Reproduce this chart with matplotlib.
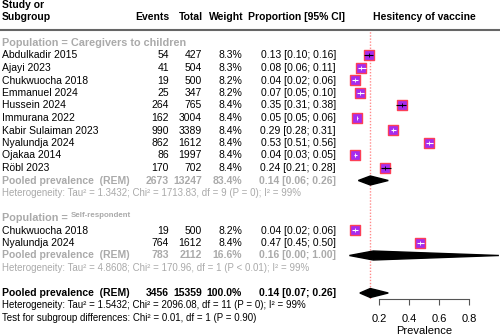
import matplotlib
matplotlib.use("Agg")
import matplotlib.pyplot as plt

plt.rcParams['font.family'] = ['Liberation Sans', 'DejaVu Sans']

# subgroup 1: caregivers to children
studies1 = ["Abdulkadir 2015", "Ajayi 2023", "Chukwuocha 2018", "Emmanuel 2024", "Hussein 2024",
            "Immurana 2022", "Kabir Sulaiman 2023", "Nyalundja 2024", "Ojakaa 2014", "Röbl 2023"]
events1 = [54, 41, 19, 25, 264, 162, 990, 862, 86, 170]
totals1 = [427, 504, 500, 347, 765, 3004, 3389, 1612, 1997, 702]
weights1 = [8.3, 8.3, 8.2, 8.2, 8.4, 8.4, 8.4, 8.4, 8.4, 8.4]
prop1 = [0.13, 0.08, 0.04, 0.07, 0.35, 0.05, 0.29, 0.53, 0.04, 0.24]
lo1 = [0.10, 0.06, 0.02, 0.05, 0.31, 0.05, 0.28, 0.51, 0.03, 0.21]
hi1 = [0.16, 0.11, 0.06, 0.10, 0.38, 0.06, 0.31, 0.56, 0.05, 0.28]

# subgroup 2: self-respondent
studies2 = ["Chukwuocha 2018", "Nyalundja 2024"]
events2 = [19, 764]
totals2 = [500, 1612]
weights2 = [8.2, 8.4]
prop2 = [0.04, 0.47]
lo2 = [0.02, 0.45]
hi2 = [0.06, 0.50]

# pooled: group1, group2, overall
pooled_events = [2673, 783, 3456]
pooled_totals = [13247, 2112, 15359]
pooled_weights = [83.4, 16.6, 100.0]
pooled_prop = [0.14, 0.16, 0.14]
pooled_lo = [0.06, 0.00, 0.07]
pooled_hi = [0.26, 1.00, 0.26]

het1 = "Heterogeneity: Tau² = 1.3432; Chi² = 1713.83, df = 9 (P = 0); I² = 99%"
het2 = "Heterogeneity: Tau² = 4.8608; Chi² = 170.96, df = 1 (P < 0.01); I² = 99%"
het_all = "Heterogeneity: Tau² = 1.5432; Chi² = 2096.08, df = 11 (P = 0); I² = 99%"
test_sub = "Test for subgroup differences: Chi² = 0.01, df = 1 (P = 0.90)"
ref_line = 0.14
xticks = [0.2, 0.4, 0.6, 0.8]

W, H = 500, 336
GRAY = '#aaaaaa'
FS = 7.5
FS_HET = 7.0

fig = plt.figure(figsize=(W / 100, H / 100), dpi=100)
tx = fig.add_axes([0, 0, 1, 1])
tx.set_xlim(0, W)
tx.set_ylim(H, 0)
tx.axis('off')

def rowy(k):
    return 43 + 12.5 * k

X_NAME, X_EV, X_TOT, X_W, X_P = 2, 169, 202, 242, 336

def row_text(k, name, ev, tot, w, p, lo, hi, color='black', weight='normal'):
    y = rowy(k)
    kw = dict(va='center', fontsize=FS, color=color, fontweight=weight)
    tx.text(X_NAME, y, name, ha='left', **kw)
    tx.text(X_EV, y, str(ev), ha='right', **kw)
    tx.text(X_TOT, y, str(tot), ha='right', **kw)
    tx.text(X_W, y, f"{w:.1f}%", ha='right', **kw)
    tx.text(X_P, y, f"{p:.2f} [{lo:.2f}; {hi:.2f}]", ha='right', **kw)

# header
hk = dict(fontsize=FS, fontweight='bold', va='center')
tx.text(X_NAME, 5.5, "Study or", ha='left', **hk)
tx.text(X_NAME, 17.5, "Subgroup", ha='left', **hk)
tx.text(X_EV, 17.5, "Events", ha='right', **hk)
tx.text(X_TOT + 1, 17.5, "Total", ha='right', **hk)
tx.text(X_W + 2, 17.5, "Weight", ha='right', **hk)
tx.text(345, 17.5, "Proportion [95% CI]", ha='right', **hk)
tx.text(424, 17.5, "Hesitency of vaccine", ha='center', **hk)
tx.plot([0, W], [30, 30], color='#666666', lw=1.5)

# group 1
tx.text(X_NAME, rowy(0), "Population = Caregivers to children", ha='left', va='center',
        fontsize=FS + 0.3, fontweight='bold', color=GRAY)
for i in range(len(studies1)):
    row_text(1 + i, studies1[i], events1[i], totals1[i], weights1[i], prop1[i], lo1[i], hi1[i])
row_text(11, "Pooled prevalence  (REM)", pooled_events[0], pooled_totals[0], pooled_weights[0],
         pooled_prop[0], pooled_lo[0], pooled_hi[0], color=GRAY, weight='bold')
tx.text(X_NAME, rowy(12), het1, ha='left', va='center', fontsize=FS_HET, color=GRAY)

# group 2
t = tx.text(X_NAME, rowy(14), "Population = ", ha='left', va='center',
            fontsize=FS + 0.3, fontweight='bold', color=GRAY)
tx.annotate("Self-respondent", xycoords=t, xy=(1, 0.5), va='center', ha='left',
            fontsize=FS - 1.8, fontweight='bold', color=GRAY, xytext=(0, 1.5),
            textcoords='offset points')
for i in range(len(studies2)):
    row_text(15 + i, studies2[i], events2[i], totals2[i], weights2[i], prop2[i], lo2[i], hi2[i])
row_text(17, "Pooled prevalence  (REM)", pooled_events[1], pooled_totals[1], pooled_weights[1],
         pooled_prop[1], pooled_lo[1], pooled_hi[1], color=GRAY, weight='bold')
tx.text(X_NAME, rowy(18), het2, ha='left', va='center', fontsize=FS_HET, color=GRAY)

# overall
row_text(20, "Pooled prevalence  (REM)", pooled_events[2], pooled_totals[2], pooled_weights[2],
         pooled_prop[2], pooled_lo[2], pooled_hi[2], color='black', weight='bold')
tx.text(X_NAME, rowy(21), het_all, ha='left', va='center', fontsize=FS_HET)
tx.text(X_NAME, rowy(22), test_sub, ha='left', va='center', fontsize=FS_HET)

# forest panel
x0, x1 = 349.4, 498.9
ytop, ybot = 31, 299
ax = fig.add_axes([x0 / W, 1 - ybot / H, (x1 - x0) / W, (ybot - ytop) / H])
ax.set_xlim(0, 1)
ax.set_ylim((ybot - 43) / 12.5, (ytop - 43) / 12.5)
ax.patch.set_alpha(0)
for s in ['top', 'left', 'right']:
    ax.spines[s].set_visible(False)
ax.spines['bottom'].set_bounds(0.2, 0.8)
ax.spines['bottom'].set_color('#555555')
ax.set_yticks([])
ax.set_xticks(xticks)
ax.set_xticklabels([f"{v:.1f}" for v in xticks], fontsize=FS + 0.5)
ax.tick_params(axis='x', direction='out', length=4.5, color='#555555', pad=6)
ax.set_xlabel("Prevalence", fontsize=FS + 0.5, labelpad=1.5)

ax.axvline(ref_line, ls=(0, (1, 1.2)), color='#ff8a8a', lw=1, zorder=1)

def draw_studies(rows, p, lo, hi):
    for k, pp, l, h in zip(rows, p, lo, hi):
        c = 'black' if (h - l) > 0.055 else 'white'
        ax.scatter([pp], [k], marker='s', s=50, facecolor='#a020f0', edgecolor='#ff3b4e',
                   linewidth=1.0, alpha=0.95, zorder=3)
        ax.hlines(k, l, h, color=c, lw=0.8, zorder=4)
        ax.plot([pp], [k], marker='|', ms=2.5, color=c, mew=0.6, zorder=4)

draw_studies(range(1, 11), prop1, lo1, hi1)
draw_studies(range(15, 17), prop2, lo2, hi2)

for k, p, l, h in zip([11, 17, 20], pooled_prop, pooled_lo, pooled_hi):
    ax.fill([l, p, h, p], [k, k - 0.36, k, k + 0.36], color='black', zorder=3, clip_on=False)

fig.savefig("out.png", dpi=100)
